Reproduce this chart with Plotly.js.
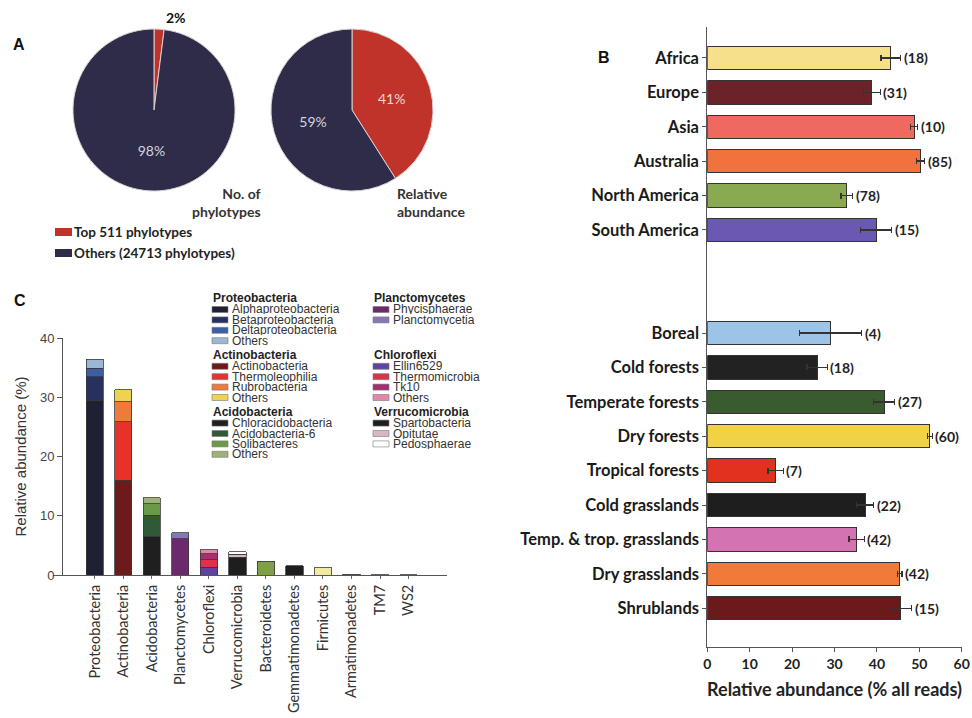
<!DOCTYPE html>
<html><head><meta charset="utf-8">
<script src="https://cdn.plot.ly/plotly-3.0.1.min.js"></script>
<style>html,body{margin:0;padding:0;background:#fff}#chart{width:972px;height:718px}</style>
</head><body><div id="chart"></div>
<script>
// ---------- Panel A data ----------
const pieLabels = ['Top 511 phylotypes', 'Others (24713 phylotypes)'];
const pieColors = ['#c0332b', '#2e2c48'];
const phylotypeShare = [2, 98];
const abundanceShare = [41, 59];
const pieTitles = ['No. of<br>phylotypes', 'Relative<br>abundance'];

// ---------- Panel B data ----------
const regions = ['Africa', 'Europe', 'Asia', 'Australia', 'North America', 'South America'];
const regionValues = [43.3, 38.8, 48.8, 50.3, 32.9, 39.8];
const regionErrors = [2.3, 2.0, 0.8, 1.0, 1.4, 3.7];
const regionCounts = [18, 31, 10, 85, 78, 15];
const regionColors = ['#f6e08c', '#6b2228', '#ee6a60', '#f0723c', '#8aaa52', '#6a58b2'];

const biomes = ['Boreal', 'Cold forests', 'Temperate forests', 'Dry forests', 'Tropical forests', 'Cold grasslands', 'Temp. & trop. grasslands', 'Dry grasslands', 'Shrublands'];
const biomeValues = [29.1, 25.9, 41.7, 52.5, 16.1, 37.2, 35.2, 45.4, 45.6];
const biomeErrors = [7.3, 2.4, 2.5, 0.6, 1.8, 2.0, 1.8, 0.5, 2.6];
const biomeCounts = [4, 18, 27, 60, 7, 22, 42, 42, 15];
const biomeColors = ['#9cc4e6', '#222222', '#3a5a30', '#f0d244', '#e2321f', '#1e1e1e', '#d473b2', '#ef7a3a', '#6a1a1a'];

// ---------- Panel C data ----------
const phyla = ['Proteobacteria', 'Actinobacteria', 'Acidobacteria', 'Planctomycetes', 'Chloroflexi', 'Verrucomicrobia', 'Bacteroidetes', 'Gemmatimonadetes', 'Firmicutes', 'Armatimonadetes', 'TM7', 'WS2'];

const proteoClasses = ['Alphaproteobacteria', 'Betaproteobacteria', 'Deltaproteobacteria', 'Others'];
const proteoValues = [29.5, 4.0, 1.4, 1.5];
const proteoColors = ['#1f1f36', '#27305e', '#3d5da6', '#9ab8d6'];

const actinoClasses = ['Actinobacteria', 'Thermoleophilia', 'Rubrobacteria', 'Others'];
const actinoValues = [16.0, 9.9, 3.35, 2.05];
const actinoColors = ['#6c1a1c', '#e6322a', '#ee7b3c', '#efd252'];

const acidoClasses = ['Chloracidobacteria', 'Acidobacteria-6', 'Solibacteres', 'Others'];
const acidoValues = [6.5, 3.6, 1.9, 1.0];
const acidoColors = ['#1e1f1e', '#2f5a38', '#6a9a48', '#9db276'];

const planctoClasses = ['Phycisphaerae', 'Planctomycetia'];
const planctoValues = [6.1, 1.0];
const planctoColors = ['#6a2a6c', '#8678b6'];

const chloroClasses = ['Ellin6529', 'Thermomicrobia', 'Tk10', 'Others'];
const chloroValues = [1.3, 1.3, 1.0, 0.7];
const chloroColors = ['#5e44a0', '#e0304c', '#a33070', '#e486ac'];

const verrucoClasses = ['Spartobacteria', 'Opitutae', 'Pedosphaerae'];
const verrucoValues = [3.0, 0.5, 0.45];
const verrucoColors = ['#1e1e1e', '#d6b8c2', '#ffffff'];

const otherPhyla = ['Bacteroidetes', 'Gemmatimonadetes', 'Firmicutes', 'Armatimonadetes', 'TM7', 'WS2'];
const otherValues = [2.3, 1.6, 1.2, 0.1, 0.05, 0.04];
const otherColors = ['#7ea048', '#1e1e1e', '#f2eaa0', '#888888', '#888888', '#888888'];

// ---------- helpers ----------
const W = 972, H = 718;
const px = x => x / W;
const py = y => 1 - y / H;

const traces = [];
const annotations = [];
const shapes = [];
function note(o) {
  annotations.push(Object.assign({ xref: 'paper', yref: 'paper', showarrow: false, yanchor: 'middle', xanchor: 'center' }, o));
}

// ---------- Panel A ----------
const pieData = [phylotypeShare, abundanceShare];
const pieDomains = [[73, 235], [271, 433]];
pieData.forEach((vals, k) => {
  const tot = vals.reduce((a, b) => a + b, 0);
  const small = vals.map(v => v / tot < 0.05);
  traces.push({
    type: 'pie', values: vals, labels: pieLabels, sort: false, direction: 'clockwise', rotation: 0,
    marker: { colors: pieColors, line: { color: '#d8d0d0', width: 1 } },
    textinfo: 'percent', textposition: small.map(s => s ? 'none' : 'inside'),
    insidetextorientation: 'horizontal',
    textfont: { family: 'Lato', size: 14, color: ['#f2d8d0', '#d4d4de'] },
    domain: { x: [px(pieDomains[k][0]), px(pieDomains[k][1])], y: [py(191), py(29)] },
    hoverinfo: 'none', showlegend: false
  });
  vals.forEach((v, i) => {
    if (small[i]) {
      note({ x: px((pieDomains[k][0] + pieDomains[k][1]) / 2 + 22), y: py(18),
        text: '<b>' + Math.round(v / tot * 100) + '%</b>', font: { family: 'Lato', size: 14, color: '#111' } });
    }
  });
});
note({ x: px(263), y: py(203), xanchor: 'right', align: 'right',
  text: '<b>' + pieTitles[0] + '</b>', font: { family: 'Lato', size: 14, color: '#333' } });
note({ x: px(395), y: py(203), xanchor: 'left', align: 'left',
  text: '<b>' + pieTitles[1] + '</b>', font: { family: 'Lato', size: 14, color: '#333' } });
pieLabels.forEach((lab, i) => {
  const yc = 232 + i * 21;
  shapes.push({ type: 'rect', xref: 'paper', yref: 'paper', x0: px(55), x1: px(72), y0: py(yc + 4), y1: py(yc - 4),
    fillcolor: pieColors[i], line: { width: 0 } });
  note({ x: px(72), y: py(yc), xanchor: 'left', text: '<b>' + lab + '</b>',
    font: { family: 'Lato', size: 13.5, color: '#222' } });
});

// ---------- Panel B ----------
const regionPos = regions.map((_, i) => i);
const biomePos = biomes.map((_, i) => i + regions.length + 2);
[[regionPos, regionValues, regionErrors, regionColors, regionCounts],
 [biomePos, biomeValues, biomeErrors, biomeColors, biomeCounts]].forEach(([pos, vals, errs, cols, counts]) => {
  traces.push({
    type: 'bar', orientation: 'h', x: vals, y: pos, xaxis: 'x', yaxis: 'y', width: 0.68,
    marker: { color: cols, line: { color: '#333', width: 1 } },
    error_x: { type: 'data', array: errs, visible: true, color: '#333', thickness: 1.3, width: 3 },
    hoverinfo: 'none', showlegend: false
  });
  vals.forEach((v, i) => {
    annotations.push({ xref: 'x', yref: 'y', x: v + errs[i], y: pos[i], xanchor: 'left', yanchor: 'middle', xshift: 1,
      text: '<b>(' + counts[i] + ')</b>', showarrow: false, font: { family: 'Lato', size: 14, color: '#222' } });
  });
});

// ---------- Panel C ----------
const groupNames = ['Proteobacteria', 'Actinobacteria', 'Acidobacteria', 'Planctomycetes', 'Chloroflexi', 'Verrucomicrobia'];
const groupClasses = [proteoClasses, actinoClasses, acidoClasses, planctoClasses, chloroClasses, verrucoClasses];
const groupValues = [proteoValues, actinoValues, acidoValues, planctoValues, chloroValues, verrucoValues];
const groupColors = [proteoColors, actinoColors, acidoColors, planctoColors, chloroColors, verrucoColors];

groupNames.forEach((g, gi) => {
  groupClasses[gi].forEach((c, ci) => {
    traces.push({
      type: 'bar', x: [g], y: [groupValues[gi][ci]], xaxis: 'x2', yaxis: 'y2', width: 0.6,
      marker: { color: groupColors[gi][ci], line: { color: '#3a3a3a', width: 0.8 } },
      name: c, hoverinfo: 'none', showlegend: false
    });
  });
  // legend
  const col = gi < 3 ? 0 : 1;
  const block = gi % 3;
  const x0 = col === 0 ? 212 : 373;
  const top = 298 + block * 56.8;
  note({ x: px(x0 - 1), y: py(top), xanchor: 'left', text: '<b>' + g + '</b>',
    font: { family: 'Liberation Sans', size: 12, color: '#222' } });
  groupClasses[gi].forEach((c, ci) => {
    const yc = top + 11.5 + ci * 10.4;
    shapes.push({ type: 'rect', xref: 'paper', yref: 'paper', x0: px(x0), x1: px(x0 + 16), y0: py(yc + 3), y1: py(yc - 3),
      fillcolor: groupColors[gi][ci], line: { color: '#777', width: 0.6 } });
    note({ x: px(x0 + 18), y: py(yc), xanchor: 'left', text: c, height: 10,
      font: { family: 'Liberation Sans', size: 12, color: '#333' } });
  });
});
traces.push({
  type: 'bar', x: otherPhyla, y: otherValues, xaxis: 'x2', yaxis: 'y2', width: 0.6,
  marker: { color: otherColors, line: { color: '#3a3a3a', width: 0.8 } }, hoverinfo: 'none', showlegend: false
});

// panel letters
[['A', 19, 45], ['B', 604, 57], ['C', 20, 300]].forEach(([t, x, y]) => {
  note({ x: px(x), y: py(y), text: '<b>' + t + '</b>', font: { family: 'Liberation Sans', size: 16, color: '#111' } });
});

const layout = {
  width: W, height: H, margin: { l: 0, r: 0, t: 0, b: 0 }, paper_bgcolor: '#fff', plot_bgcolor: 'rgba(0,0,0,0)',
  barmode: 'stack', showlegend: false,
  xaxis: {
    domain: [px(707.3), px(961.7)], range: [0, 60], tickvals: [0, 10, 20, 30, 40, 50, 60], anchor: 'y',
    ticks: 'outside', ticklen: 4, tickcolor: '#555', showline: true, linecolor: '#555', linewidth: 1,
    showgrid: false, zeroline: false, tickfont: { family: 'Lato', size: 14, color: '#222', weight: 'bold' },
    title: { text: '<b>Relative abundance (% all reads)</b>', font: { family: 'Lato', size: 18, color: '#222' }, standoff: 12 }
  },
  yaxis: {
    domain: [py(646.7), py(27)], range: [17.12, -0.9], anchor: 'x',
    tickvals: regionPos.concat(biomePos), ticktext: regions.concat(biomes),
    ticks: 'outside', ticklen: 4, tickcolor: '#555', showline: true, linecolor: '#555', linewidth: 1,
    showgrid: false, zeroline: false, tickfont: { family: 'Lato', size: 16.5, color: '#1a1a1a', weight: 'bold' }
  },
  xaxis2: {
    domain: [px(53), px(447)], range: [-1.47, 12.35], type: 'category', categoryarray: phyla, categoryorder: 'array',
    anchor: 'y2', tickangle: -90, ticks: 'outside', ticklen: 3, tickcolor: '#666', showline: true, linecolor: '#555',
    showgrid: false, zeroline: false, tickfont: { family: 'Lato', size: 14.5, color: '#333' }
  },
  yaxis2: {
    domain: [py(575), py(338)], range: [0, 40], dtick: 10, anchor: 'free', position: px(62),
    ticks: 'outside', ticklen: 5, tickcolor: '#555', showline: true, linecolor: '#555',
    showgrid: false, zeroline: false, tickfont: { family: 'Liberation Sans', size: 13, color: '#444' },
    title: { text: 'Relative abundance (%)', font: { family: 'Liberation Sans', size: 15, color: '#333' }, standoff: 8 }
  },
  annotations: annotations, shapes: shapes
};

Plotly.newPlot('chart', traces, layout, { staticPlot: true, displayModeBar: false });
</script>
</body></html>
